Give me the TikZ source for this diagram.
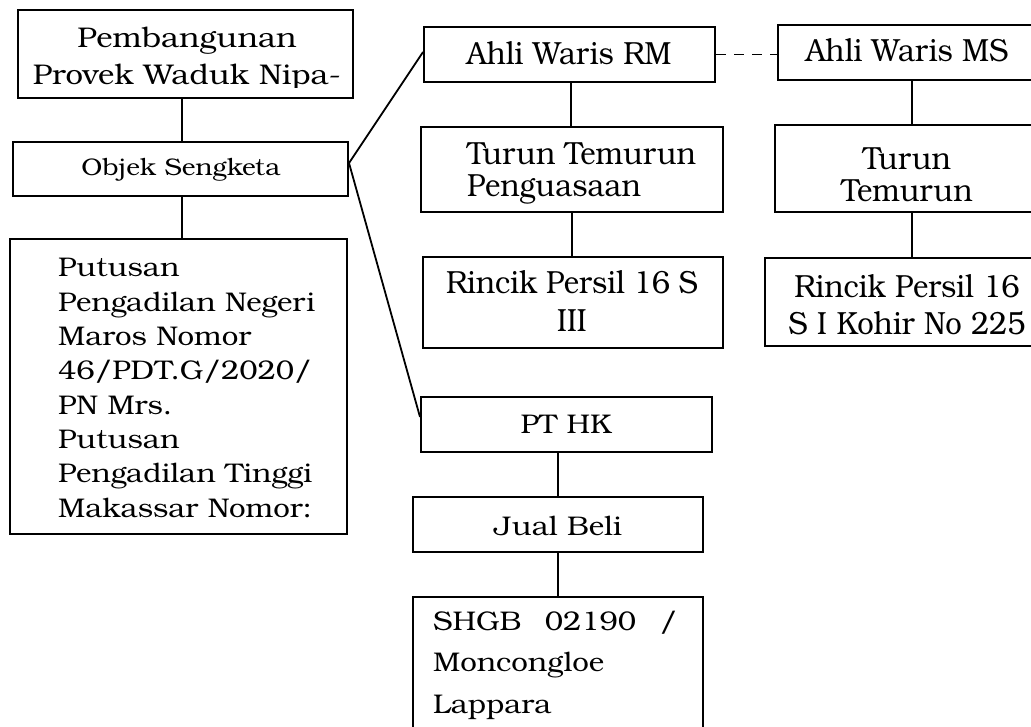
\documentclass[tikz,border=0pt]{standalone}
\usepackage{fontspec}
\newfontfamily\bk{texgyrebonum-regular.otf}[FakeStretch=1.09]
\newfontfamily\bkn{texgyrebonum-regular.otf}[FakeStretch=0.915]
\begin{document}
\begin{tikzpicture}[x=1pt,y=-1pt,
  box/.style={draw, line width=2pt, inner sep=0pt},
  conn/.style={line width=1.8pt},
  wide/.style={inner sep=0pt, font=\bk\fontsize{27}{34.3}\selectfont},
  narrow/.style={inner sep=0pt, font=\bkn\fontsize{32}{32}\selectfont}]
\useasboundingbox (0,0) rectangle (1031,727);
\clip (0,0) rectangle (1031,727);
% boxes
\node[box, minimum width=335pt, minimum height=88pt] (A) at (185.5,54) {};
\node[box, minimum width=335pt, minimum height=54pt] (B) at (180.5,169) {};
\node[box, minimum width=337pt, minimum height=295pt] (C) at (178.5,386.5) {};
\node[box, minimum width=291pt, minimum height=55pt] (D) at (569.5,54.5) {};
\node[box, minimum width=258pt, minimum height=55pt] (E) at (907,52.5) {};
\node[box, minimum width=302pt, minimum height=85pt] (F) at (572,169.5) {};
\node[box, minimum width=264pt, minimum height=87pt] (G) at (907,168.5) {};
\node[box, minimum width=300pt, minimum height=91pt] (H) at (573,302.5) {};
\node[box, minimum width=284pt, minimum height=88pt] (I) at (907,302) {};
\node[box, minimum width=291pt, minimum height=55pt] (J) at (566.5,424.5) {};
\node[box, minimum width=290pt, minimum height=55pt] (K) at (558,524.5) {};
\node[box, minimum width=290pt, minimum height=160pt] (L) at (558,677) {};
% texts (base anchor = baseline of the last line)
\begin{scope}
\clip (18,10) rectangle (353,88);
\node[wide, anchor=base, align=center, font=\bk\fontsize{28.5}{37}\selectfont] (At) at (187,85) {Pembangunan\\Provek Waduk Nipa-};
\end{scope}
\node[wide, anchor=base, font=\bk\fontsize{24}{30}\selectfont] (Bt) at (181,176) {Objek Sengketa};
\node[wide, anchor=base west, align=left] (Ct) at (58,517) {Putusan\\Pengadilan Negeri\\Maros Nomor\\46/PDT.G/2020/\\PN Mrs.\\Putusan\\Pengadilan Tinggi\\Makassar Nomor:};
\node[narrow, anchor=base] (Dt) at (569,65) {Ahli Waris RM};
\node[narrow, anchor=base] (Et) at (907,62) {Ahli Waris MS};
\node[narrow, anchor=base west, align=left] (Ft) at (467,197) {Turun Temurun\\Penguasaan};
\node[narrow, anchor=base, align=center] (Gt) at (907,202) {Turun\\Temurun};
\node[narrow, anchor=base, align=center, font=\bkn\fontsize{32}{39}\selectfont] (Ht) at (572,332) {\hbox to 252pt{Rincik\hfil Persil\hfil 16\hfil S}\\III};
\node[narrow, anchor=base, align=center, font=\bkn\fontsize{32}{38}\selectfont] (It) at (907,335) {Rincik Persil 16\\S I Kohir No 225};
\node[wide, anchor=base] (Jt) at (566,433) {PT HK};
\node[wide, anchor=base] (Kt) at (558,535) {Jual Beli};
\node[wide, anchor=base west, align=left, font=\bk\fontsize{27}{41.5}\selectfont] (Lt) at (433,713) {\hbox to 244pt{SHGB\hfil 02190\hfil /}\\Moncongloe\\Lappara};
% connectors
\draw[conn] ([xshift=-3.5pt]A.south) -- ([xshift=-3.5pt]A.south |- B.north);
\draw[conn] ([xshift=1.5pt]B.south) -- ([xshift=1.5pt]B.south |- C.north);
\draw[conn] ([yshift=6pt]B.east) -- ([yshift=2.5pt]D.west);
\draw[conn] ([yshift=6pt]B.east) -- ([yshift=7.5pt]J.west);
\draw[conn, dash pattern=on 10pt off 8pt] (D.east) -- (D.east -| E.west);
\draw[conn] ([xshift=1.5pt]D.south) -- ([xshift=1.5pt]D.south |- F.north);
\draw[conn] (F.south) -- (F.south |- H.north);
\draw[conn] ([xshift=5pt]E.south) -- ([xshift=5pt]E.south |- G.north);
\draw[conn] ([xshift=5pt]G.south) -- ([xshift=5pt]G.south |- I.north);
\draw[conn] ([xshift=-8.5pt]J.south) -- ([xshift=-8.5pt]J.south |- K.north);
\draw[conn] (K.south) -- (K.south |- L.north);
\end{tikzpicture}
\end{document}
